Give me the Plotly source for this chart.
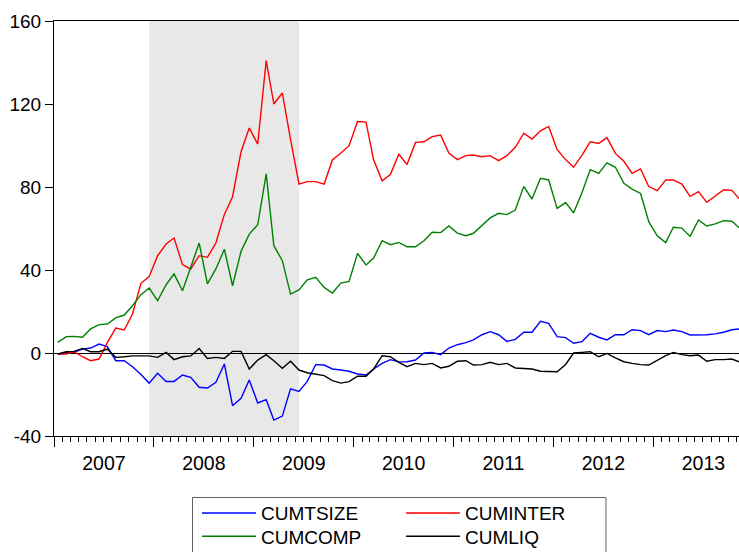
import pandas as pd
import plotly.graph_objects as go

# monthly observations, Jan 2007 - Nov 2013
months = pd.date_range('2007-01-01', periods=83, freq='MS') + pd.Timedelta(days=14)

cumtsize = [-0.8, 0.3, 0.3, 1.9, 2.4, 4.3, 3.1, -3.7, -3.7, -6.6,
            -10.4, -14.5, -9.8, -13.7, -13.7, -10.6, -11.7, -16.5, -16.9, -14.1,
            -5.3, -25.4, -21.8, -13.0, -24.1, -22.5, -32.3, -30.4, -17.3, -18.5,
            -13.7, -5.6, -5.8, -7.7, -8.2, -8.8, -10.1, -10.6, -7.7, -5.0,
            -3.2, -4.3, -4.2, -3.4, 0.0, 0.3, -0.8, 2.4, 4.0, 5.0,
            6.3, 8.8, 10.3, 8.8, 5.6, 6.6, 10.0, 10.0, 15.3, 14.3,
            7.9, 7.4, 4.7, 5.5, 9.5, 7.6, 6.3, 8.8, 8.8, 11.2,
            10.8, 8.8, 10.8, 10.3, 11.1, 10.3, 8.7, 8.7, 8.8, 9.2,
            10.0, 11.2, 11.6]

cuminter = [-0.5, -0.5, 0.6, -1.8, -3.7, -2.9, 5.0, 12.0, 11.1, 18.8,
            33.6, 36.8, 46.9, 52.5, 55.4, 42.6, 40.5, 46.9, 46.1, 53.0,
            66.8, 75.3, 97.0, 108.4, 100.7, 140.9, 120.0, 125.3, 103.0, 81.4,
            82.6, 82.6, 81.4, 93.0, 96.4, 99.9, 111.6, 111.3, 93.0, 83.0,
            86.0, 95.8, 90.8, 101.5, 101.8, 104.3, 105.0, 96.4, 93.2, 95.1,
            95.4, 94.6, 95.1, 92.7, 95.1, 99.1, 105.9, 103.1, 107.1, 109.2,
            98.0, 93.2, 89.5, 95.4, 101.8, 101.0, 103.8, 96.2, 92.4, 86.6,
            88.7, 80.2, 78.2, 83.4, 83.4, 81.4, 75.5, 77.8, 72.6, 75.8,
            78.7, 78.4, 73.7]

cumcomp = [5.1, 7.9, 8.0, 7.6, 11.6, 13.7, 14.0, 16.9, 18.3, 22.8,
           28.1, 31.3, 25.2, 32.9, 38.1, 30.0, 41.3, 53.0, 33.3, 40.5,
           50.0, 32.4, 49.0, 57.3, 61.8, 86.3, 51.7, 44.5, 28.4, 30.4,
           35.3, 36.5, 31.6, 28.9, 33.7, 34.5, 48.0, 42.4, 45.8, 54.1,
           52.2, 53.3, 51.2, 51.2, 54.1, 58.2, 58.0, 61.2, 57.8, 56.5,
           57.7, 61.4, 65.1, 67.3, 66.7, 68.9, 80.3, 74.2, 84.2, 83.4,
           69.7, 72.5, 67.5, 77.4, 88.4, 86.6, 91.6, 89.5, 81.8, 79.0,
           76.9, 63.3, 56.5, 53.2, 60.6, 60.2, 56.2, 64.1, 61.2, 62.2,
           63.8, 63.5, 59.8]

cumliq = [-0.5, 0.6, 0.8, 2.2, 0.6, 0.6, 1.9, -2.1, -1.8, -1.4,
          -1.4, -1.4, -2.1, 0.3, -3.2, -1.8, -1.4, 2.2, -2.6, -2.1,
          -2.6, 0.8, 0.8, -7.7, -3.4, -0.8, -3.7, -7.4, -4.0, -8.2,
          -9.5, -10.1, -10.9, -13.3, -14.5, -13.8, -11.2, -11.2, -7.7, -1.3,
          -1.8, -4.5, -6.6, -5.0, -5.6, -5.0, -7.2, -6.4, -4.0, -3.7,
          -5.8, -5.6, -4.5, -5.6, -5.0, -7.2, -7.4, -7.7, -8.8, -8.8,
          -9.0, -5.5, 0.0, 0.3, 0.6, -1.8, -0.2, -2.4, -4.2, -5.0,
          -5.6, -5.8, -3.4, -1.3, 0.3, -0.8, -1.3, -1.0, -4.0, -3.2,
          -3.2, -2.9, -4.5]

y_ticks = [-40, 0, 40, 80, 120, 160]
y_labels = ['-40', '0', '40', '80', '120', '160']

# legend row per series: first row TSIZE/INTER, second row COMP/LIQ
series = [('CUMTSIZE', cumtsize, '#0000ff', 'legend'),
          ('CUMINTER', cuminter, '#ff0000', 'legend'),
          ('CUMCOMP', cumcomp, '#008000', 'legend2'),
          ('CUMLIQ', cumliq, '#000000', 'legend2')]

fig = go.Figure()
for name, vals, col, leg in series:
    fig.add_trace(go.Scatter(x=months, y=vals, name=name, mode='lines',
                             legend=leg, line=dict(color=col, width=1.4)))

# recession shading
fig.add_vrect(x0='2007-12-15', x1='2009-06-15', fillcolor='#e8e8e8',
              line_width=0, layer='below')

# legend frame
fig.add_shape(type='rect', xref='paper', yref='paper',
              x0=0.2022, x1=0.8058, y0=-0.1482, y1=-0.30,
              line=dict(color='#606060', width=1), fillcolor='rgba(0,0,0,0)')

fnt = dict(family='Liberation Sans, Arial, sans-serif', size=19, color='black')
leg_common = dict(orientation='h', x=0.2088, xanchor='left', yanchor='middle',
                  itemwidth=54, entrywidth=135, entrywidthmode='pixels',
                  bgcolor='rgba(0,0,0,0)', borderwidth=0, font=fnt,
                  traceorder='normal')

fig.update_layout(width=739, height=552,
                  margin=dict(l=54, r=0, t=21, b=116, autoexpand=False),
                  plot_bgcolor='white', paper_bgcolor='white',
                  font=fnt,
                  legend=dict(y=-0.186, **leg_common),
                  legend2=dict(y=-0.242, **leg_common))

fig.update_xaxes(type='date', range=['2007-01-01', '2013-11-10'],
                 tick0='2007-01-01', dtick='M12', tickformat='%Y',
                 ticklabelmode='period', ticks='outside', ticklen=10,
                 tickfont=dict(size=19.5), automargin=False,
                 tickcolor='black', showgrid=False, showline=True,
                 linecolor='black', linewidth=1, mirror=True,
                 minor=dict(dtick='M1', ticks='outside', ticklen=5,
                            tickcolor='black', showgrid=False))

fig.update_yaxes(range=[-40, 160], tickvals=y_ticks, ticktext=y_labels,
                 ticks='outside', automargin=False,
                 ticklen=8, tickcolor='black', showgrid=False,
                 showline=True, linecolor='black', linewidth=1, mirror=True,
                 zeroline=True, zerolinecolor='black', zerolinewidth=1)

fig.write_html("out.html", config={'displayModeBar': False},
               post_script="document.body.style.margin='0';"
                           "document.body.style.overflow='hidden';")
